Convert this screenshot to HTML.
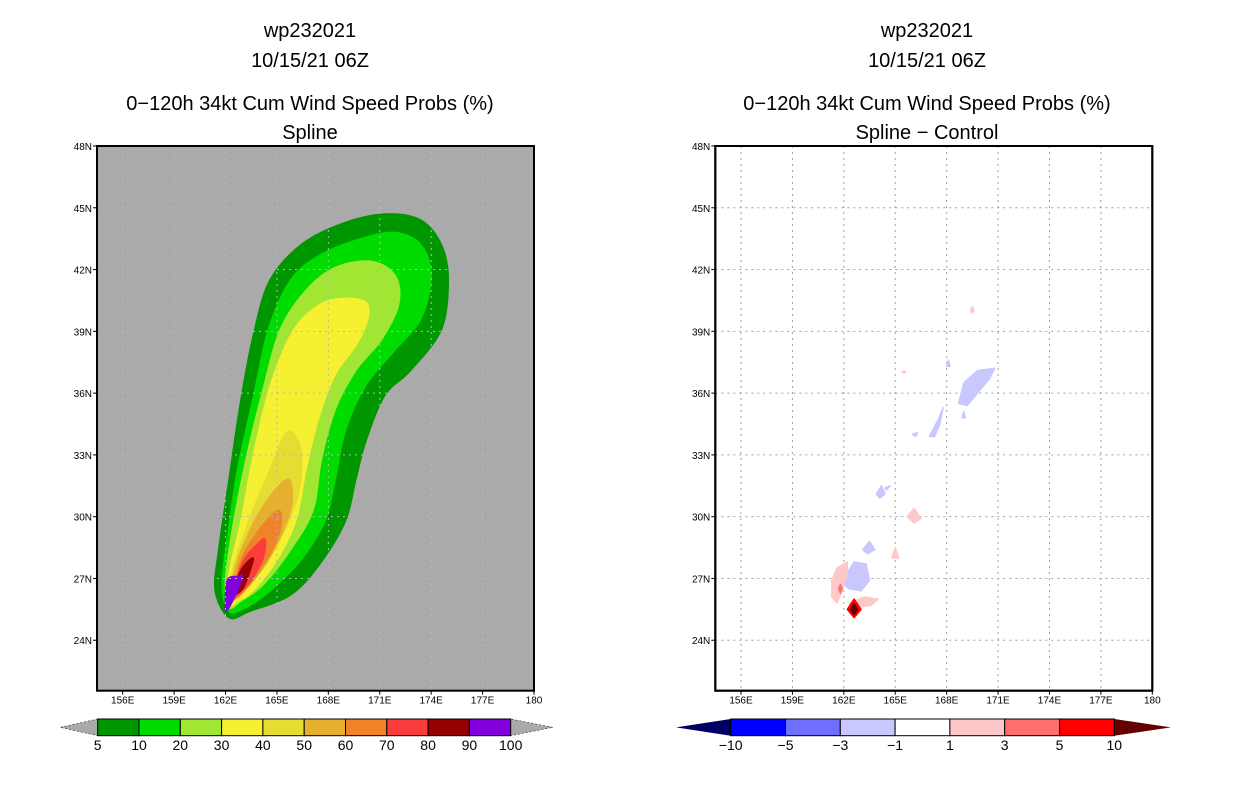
<!DOCTYPE html>
<html><head><meta charset="utf-8">
<style>
body{margin:0;background:#fff;width:1236px;height:800px;overflow:hidden;font-family:"Liberation Sans",sans-serif;}
svg text{font-family:"Liberation Sans",sans-serif;}
</style></head>
<body>
<svg id="chart" width="1236" height="800" viewBox="0 0 1236 800" xmlns="http://www.w3.org/2000/svg">
<rect width="1236" height="800" fill="#fff"/>
</svg>
<script>
const lonTicks=[156,159,162,165,168,171,174,177,180];
const latTicks=[24,27,30,33,36,39,42,45,48];
const probLevels=[5,10,20,30,40,50,60,70,80,90,100];
const probColors=["#009600","#00dc00","#a0e632","#f5f032","#e6dc32","#e6af2d","#f08228","#fa3c3c","#960000","#8200dc"];
const diffLevels=["-10","-5","-3","-1","1","3","5","10"];
const diffColors=["#0000ff","#6e6eff","#c8c8ff","#ffffff","#ffc8c8","#ff6e6e","#ff0000"];
// probability contour polygons [lon,lat], outer (5%) to inner (90%)
const probPolys=[
[[162.2,25.1],[161.4,26.4],[161.6,28.4],[162.2,31.8],[162.9,35.7],[163.7,39.1],[164.6,41.5],[166.4,43.2],[168.7,44.2],[171.3,44.7],[173.4,44.4],[174.6,43.2],[175.0,41.5],[174.6,39.1],[172.8,37.1],[171.3,35.9],[170.2,33.7],[169.6,31.8],[169.0,29.8],[167.5,27.7],[165.8,26.2],[163.4,25.4]],
[[162.2,25.4],[161.8,26.7],[162.1,28.9],[162.7,32.3],[163.6,35.7],[164.5,39.1],[165.8,41.5],[167.5,42.7],[169.9,43.5],[171.9,43.8],[173.4,43.2],[174.0,41.7],[173.4,39.6],[171.9,38.1],[170.2,36.4],[169.0,34.2],[168.4,31.8],[167.8,29.8],[166.4,27.9],[164.6,26.4],[163.2,25.6]],
[[162.2,25.6],[162.0,26.9],[162.4,29.4],[163.2,32.8],[164.2,36.2],[165.2,39.1],[166.7,41.0],[168.4,42.1],[170.5,42.4],[171.9,41.7],[172.1,40.3],[171.1,38.6],[169.6,37.1],[168.4,35.2],[167.6,32.8],[167.1,30.3],[165.8,28.4],[164.2,26.7],[162.9,25.9]],
[[162.3,25.8],[162.2,27.2],[162.9,29.8],[163.7,33.3],[164.7,36.6],[166.0,39.1],[167.5,40.3],[169.0,40.6],[170.2,40.4],[170.3,39.6],[169.6,38.3],[168.4,36.9],[167.4,34.7],[166.7,32.3],[166.1,29.8],[165.0,27.9],[163.6,26.4],[162.7,25.9]],
[[162.3,26.0],[162.4,27.4],[163.5,30.1],[164.6,32.3],[165.4,33.9],[165.9,34.1],[166.4,33.2],[166.3,31.3],[165.5,29.4],[164.3,27.7],[163.2,26.5]],
[[162.4,26.0],[162.6,27.6],[163.7,29.8],[164.9,31.3],[165.7,31.8],[165.9,30.8],[165.5,29.6],[164.5,27.9],[163.3,26.6]],
[[162.5,26.1],[162.9,27.9],[164.0,29.4],[165.1,30.3],[165.2,29.4],[164.6,28.2],[163.4,26.7]],
[[162.5,26.2],[163.0,27.8],[163.9,28.7],[164.3,28.9],[164.2,28.0],[163.4,26.8]],
[[162.5,26.3],[162.9,27.4],[163.6,28.0],[163.4,27.3],[163.0,26.5]],
[[162.0,25.5],[162.1,26.9],[162.7,27.1],[163.0,27.1],[162.7,26.4],[162.2,25.6]]
];
const probPolyLevel=[0,1,2,3,4,5,6,7,8,9];
// difference blobs: [colorIndex, polygon]
const diffBlobs=[
[2,[[168.7,35.5],[169.0,36.5],[169.8,37.1],[170.8,37.2],[170.5,36.7],[170.0,36.2],[169.2,35.4]]],
[2,[[167.0,33.9],[167.5,34.7],[167.8,35.3],[167.6,34.5],[167.3,33.9]]],
[2,[[166.0,34.0],[166.3,34.1],[166.2,33.9]]],
[2,[[168.0,37.3],[168.1,37.6],[168.2,37.3]]],
[2,[[168.9,34.8],[169.0,35.1],[169.1,34.8]]],
[2,[[163.9,31.1],[164.2,31.5],[164.4,31.1],[164.1,30.9]]],
[2,[[164.4,31.4],[164.7,31.5],[164.5,31.3]]],
[2,[[163.1,28.4],[163.5,28.8],[163.8,28.4],[163.4,28.2]]],
[2,[[161.9,26.8],[162.3,27.4],[162.6,27.8],[163.3,27.7],[163.5,26.9],[163.0,26.4],[162.3,26.5]]],
[4,[[169.4,40.0],[169.5,40.2],[169.6,40.0],[169.5,39.9]]],
[4,[[165.4,37.0],[165.5,37.1],[165.6,37.0]]],
[4,[[165.7,30.0],[166.1,30.4],[166.5,29.9],[166.1,29.7]]],
[4,[[164.8,28.0],[165.0,28.5],[165.2,28.0]]],
[4,[[161.3,26.9],[161.6,27.5],[162.2,27.8],[162.2,27.2],[161.9,26.4],[161.6,25.8],[161.3,26.1]]],
[4,[[162.3,25.8],[163.2,26.1],[164.0,26.0],[163.6,25.7],[162.8,25.6]]],
[5,[[161.7,26.5],[161.8,26.7],[161.9,26.5],[161.8,26.3]]],
[6,[[162.2,25.5],[162.6,26.0],[163.0,25.5],[162.6,25.1]]],
[7,[[162.4,25.5],[162.6,25.8],[162.8,25.5],[162.6,25.25]]]
];
const diffBlobColors=["#0000ff","#6e6eff","#c8c8ff","#ffffff","#ffc8c8","#ff6e6e","#ff0000","#640000"];

const NS="http://www.w3.org/2000/svg";
const svg=document.getElementById('chart');
function mk(tag,attrs,parent){const e=document.createElementNS(NS,tag);for(const k in attrs)e.setAttribute(k,attrs[k]);(parent||svg).appendChild(e);return e;}
const LON0=154.5,LON1=180,LAT0=21.55,LAT1=48,TOP=146,BOT=690.7,W=437;
function panel(x0){
  const xs=lon=>x0+(lon-LON0)/(LON1-LON0)*W;
  const ys=lat=>BOT-(lat-LAT0)/(LAT1-LAT0)*(BOT-TOP);
  return {xs,ys};
}
function ptsStr(poly,p){return poly.map(q=>p.xs(q[0]).toFixed(1)+','+p.ys(q[1]).toFixed(1)).join(' ');}
function smoothPath(poly,p){
  const P=poly.map(q=>[p.xs(q[0]),p.ys(q[1])]);const n=P.length;
  let d='M'+P[0][0].toFixed(1)+','+P[0][1].toFixed(1);
  for(let i=0;i<n;i++){
    const p0=P[(i-1+n)%n],p1=P[i],p2=P[(i+1)%n],p3=P[(i+2)%n];
    const c1=[p1[0]+(p2[0]-p0[0])/6,p1[1]+(p2[1]-p0[1])/6];
    const c2=[p2[0]-(p3[0]-p1[0])/6,p2[1]-(p3[1]-p1[1])/6];
    d+=' C'+c1.map(v=>v.toFixed(1)).join(',')+' '+c2.map(v=>v.toFixed(1)).join(',')+' '+p2.map(v=>v.toFixed(1)).join(',');
  }
  return d+'Z';
}
function text(x,y,s,size,anchor,name){const t=mk('text',{x:x,y:y,'font-size':size,'text-anchor':anchor||'middle',fill:'#000'});t.textContent=s;return t;}
function axes(x0,p,gridColor,pname){
  const g=mk('g',{});
  
  
  lonTicks.slice(0,-1).forEach(l=>mk('line',{x1:p.xs(l),x2:p.xs(l),y1:TOP,y2:BOT,stroke:gridColor,'stroke-width':1,'stroke-dasharray':'2,4'},g));
  latTicks.slice(0,-1).forEach(l=>mk('line',{x1:x0,x2:x0+W,y1:p.ys(l),y2:p.ys(l),stroke:gridColor,'stroke-width':1,'stroke-dasharray':'2,4'},g));
  const f=mk('rect',{x:x0,y:TOP,width:W,height:BOT-TOP,fill:'none',stroke:'#000','stroke-width':2});
  
  
  lonTicks.forEach(l=>{mk('line',{x1:p.xs(l),x2:p.xs(l),y1:BOT,y2:BOT+4,stroke:'#000'});text(p.xs(l),BOT+13,l===180?'180':l+'E',10,'middle','lon-tick-label');});
  latTicks.forEach(l=>{mk('line',{x1:x0-4,x2:x0,y1:p.ys(l),y2:p.ys(l),stroke:'#000'});text(x0-5,p.ys(l)+4,l+'N',10,'end','lat-tick-label');});
}
// Left panel
const L=panel(97);
const bgL=mk('rect',{x:97,y:TOP,width:W,height:BOT-TOP,fill:'#aaaaaa'});


probPolys.forEach((poly,i)=>{
  const e=mk('path',{d:smoothPath(poly,L),fill:probColors[probPolyLevel[i]],stroke:probColors[probPolyLevel[i]],'stroke-width':1.5,'stroke-linejoin':'round'});
  
  
});
axes(97,L,'#b8b8b8','left-map');
// Right panel
const R=panel(715.3);
mk('rect',{x:715.3,y:TOP,width:W,height:BOT-TOP,fill:'#fff'});
axes(715.3,R,'#a0a0a0','right-map');
diffBlobs.forEach(b=>{
  const e=mk('polygon',{points:ptsStr(b[1],R),fill:diffBlobColors[b[0]],stroke:diffBlobColors[b[0]],'stroke-width':1.5,'stroke-linejoin':'round'});
  
  
});
mk('rect',{x:715.3,y:TOP,width:W,height:BOT-TOP,fill:'none',stroke:'#000','stroke-width':2});
// Titles
[[310,'Spline'],[927,'Spline \u2212 Control']].forEach(([cx,sub],i)=>{
  text(cx,37,'wp232021',20,'middle','title-storm-id');
  text(cx,67,'10/15/21 06Z',20,'middle','title-date');
  text(cx,110,'0\u2212120h 34kt Cum Wind Speed Probs (%)',20,'middle','title-product');
  text(cx,139,sub,20,'middle','subtitle');
});
// Left colorbar
(function(){
  const x0=97.7,x1=510.7,y0=719,y1=735.7,n=probColors.length,w=(x1-x0)/n,ym=(y0+y1)/2;
  const a=mk('polygon',{points:`${x0},${y0} ${x0},${y1} 60,${ym}`,fill:'#aaaaaa',stroke:'#000','stroke-width':0.5,'stroke-dasharray':'2,2'});
  
  const b=mk('polygon',{points:`${x1},${y0} ${x1},${y1} 553,${ym}`,fill:'#aaaaaa',stroke:'#000','stroke-width':0.5,'stroke-dasharray':'2,2'});
  
  probColors.forEach((c,i)=>{const r=mk('rect',{x:x0+i*w,y:y0,width:w,height:y1-y0,fill:c,stroke:'#000','stroke-width':1});
    });
  probLevels.forEach((l,i)=>text(x0+i*w,750,String(l),14,'middle','colorbar-label'));
})();
// Right colorbar
(function(){
  const x0=730.7,x1=1114.3,y0=719,y1=735.7,n=diffColors.length,w=(x1-x0)/n,ym=(y0+y1)/2;
  const a=mk('polygon',{points:`${x0},${y0} ${x0},${y1} 676,${ym}`,fill:'#000064'});
  
  const b=mk('polygon',{points:`${x1},${y0} ${x1},${y1} 1171,${ym}`,fill:'#640000'});
  
  diffColors.forEach((c,i)=>{const r=mk('rect',{x:x0+i*w,y:y0,width:w,height:y1-y0,fill:c,stroke:'#000','stroke-width':1});
    });
  diffLevels.forEach((l,i)=>text(x0+i*w,750,l.replace('-','\u2212'),14,'middle','diff-colorbar-label'));
})();
</script>
</body></html>
